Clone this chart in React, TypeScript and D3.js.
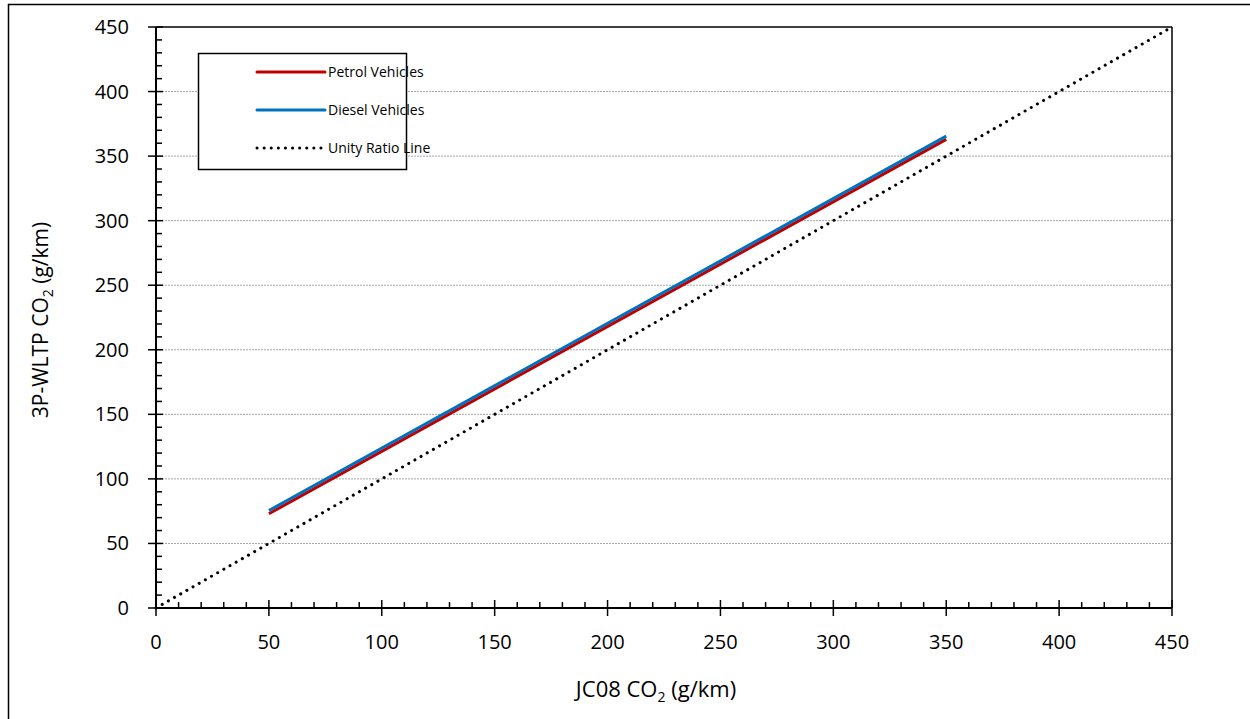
import React from "react";
import * as d3 from "d3";

// Regression lines: 3P-WLTP CO2 against JC08 CO2 (g/km)
const jc08Range: number[] = [50, 350];
const petrolWltp: number[] = [73, 363];
const dieselWltp: number[] = [75.5, 365.5];
const unityRange: number[] = [0, 450];

const xTicks: number[] = [0, 50, 100, 150, 200, 250, 300, 350, 400, 450];
const yTicks: number[] = [0, 50, 100, 150, 200, 250, 300, 350, 400, 450];
const legendLabels: string[] = ["Petrol Vehicles", "Diesel Vehicles", "Unity Ratio Line"];

const W = 1250;
const H = 719;
const FONT = "'Open Sans', 'Noto Sans', sans-serif";

export default function App() {
  const x = d3.scaleLinear().domain([0, 450]).range([156, 1172]);
  const y = d3.scaleLinear().domain([0, 450]).range([608, 27]);

  const line = d3
    .line<[number, number]>()
    .x((d) => x(d[0]))
    .y((d) => y(d[1]));

  const petrol: [number, number][] = jc08Range.map((v, i) => [v, petrolWltp[i]]);
  const diesel: [number, number][] = jc08Range.map((v, i) => [v, dieselWltp[i]]);
  const unity: [number, number][] = unityRange.map((v) => [v, v]);

  const minorX = d3.range(0, 451, 10).filter((v) => v % 50 !== 0);
  const minorY = d3.range(0, 451, 10).filter((v) => v % 50 !== 0);

  const legendX = 198;
  const legendY = 53;
  const legendRows = [72, 110, 148];

  return (
    <svg
      width={W}
      height={H}
      style={{ position: "absolute", left: 0, top: 0, display: "block", background: "#fff" }}
    >
      {/* outer frame */}
      <rect x={8.5} y={4.5} width={1260} height={740} fill="none" stroke="#000" strokeWidth={1.5} />

      {/* horizontal gridlines */}
      {yTicks
        .filter((v) => v > 0 && v < 450)
        .map((v) => (
          <line
            key={"g" + v}
            x1={x(0)}
            x2={x(450)}
            y1={y(v)}
            y2={y(v)}
            stroke="#a6a6a6"
            strokeWidth={1}
            strokeDasharray="2,1"
          />
        ))}

      {/* plot frame top/right */}
      <line x1={x(0)} x2={x(450)} y1={y(450)} y2={y(450)} stroke="#000" strokeWidth={1.5} />
      <line x1={x(450)} x2={x(450)} y1={y(450)} y2={y(0)} stroke="#000" strokeWidth={1.5} />

      {/* series */}
      <path d={line(unity) || ""} fill="none" stroke="#000" strokeWidth={3} strokeDasharray="0.1,7" strokeLinecap="round" />
      <path d={line(petrol) || ""} fill="none" stroke="#c00000" strokeWidth={3} />
      <path d={line(diesel) || ""} fill="none" stroke="#0070c0" strokeWidth={3} />

      {/* axes */}
      <line x1={x(0)} x2={x(450)} y1={y(0)} y2={y(0)} stroke="#000" strokeWidth={2} />
      <line x1={x(0)} x2={x(0)} y1={y(0)} y2={y(450)} stroke="#000" strokeWidth={2} />

      {minorX.map((v) => (
        <line key={"mx" + v} x1={x(v)} x2={x(v)} y1={y(0)} y2={y(0) - 6} stroke="#000" strokeWidth={1.5} />
      ))}
      {xTicks.map((v) => (
        <line key={"Mx" + v} x1={x(v)} x2={x(v)} y1={y(0) - 8} y2={y(0) + 8} stroke="#000" strokeWidth={1.5} />
      ))}
      {minorY.map((v) => (
        <line key={"my" + v} x1={x(0)} x2={x(0) + 6} y1={y(v)} y2={y(v)} stroke="#000" strokeWidth={1.5} />
      ))}
      {yTicks.map((v) => (
        <line key={"My" + v} x1={x(0) - 8} x2={x(0) + 7} y1={y(v)} y2={y(v)} stroke="#000" strokeWidth={1.5} />
      ))}

      {/* tick labels */}
      {xTicks.map((v) => (
        <text key={"tx" + v} x={x(v)} y={y(0) + 41} textAnchor="middle" fontFamily={FONT} fontSize={20} fill="#000">
          {v}
        </text>
      ))}
      {yTicks.map((v) => (
        <text key={"ty" + v} x={129} y={y(v) + 7} textAnchor="end" fontFamily={FONT} fontSize={20} fill="#000">
          {v}
        </text>
      ))}

      {/* axis titles */}
      <text x={656} y={697} textAnchor="middle" fontFamily={FONT} fontSize={22} fill="#000">
        JC08 CO<tspan fontSize={14} dy={5}>2</tspan>
        <tspan dy={-5}> (g/km)</tspan>
      </text>
      <text
        transform={`translate(48, 320) rotate(-90)`}
        textAnchor="middle"
        fontFamily={FONT}
        fontSize={21}
        fill="#000"
      >
        3P-WLTP CO<tspan fontSize={14} dy={5}>2</tspan>
        <tspan dy={-5}> (g/km)</tspan>
      </text>

      {/* legend */}
      <rect x={legendX + 0.5} y={legendY + 0.5} width={208} height={116} fill="#fff" stroke="#000" strokeWidth={1.5} />
      <line x1={257} x2={325} y1={legendRows[0]} y2={legendRows[0]} stroke="#c00000" strokeWidth={3} strokeLinecap="round" />
      <line x1={257} x2={325} y1={legendRows[1]} y2={legendRows[1]} stroke="#0070c0" strokeWidth={3} strokeLinecap="round" />
      <line x1={257} x2={325} y1={legendRows[2]} y2={legendRows[2]} stroke="#000" strokeWidth={3} strokeDasharray="0.1,7" strokeLinecap="round" />
      {legendLabels.map((t, i) => (
        <text key={t} x={328} y={legendRows[i] + 5} fontFamily={FONT} fontSize={14} fill="#000">
          {t}
        </text>
      ))}
    </svg>
  );
}
